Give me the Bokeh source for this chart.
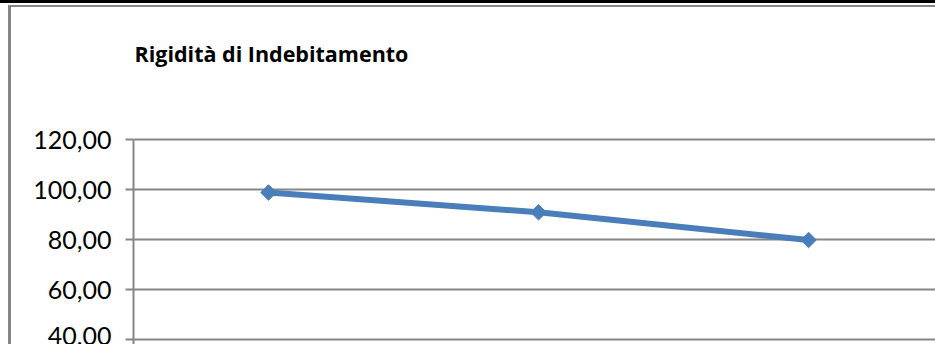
import math
from bokeh.plotting import figure
from bokeh.models import Range1d, FixedTicker, Label, CustomJSTickFormatter
from bokeh.embed import file_html
from bokeh.resources import INLINE

title_text = "Rigidità di Indebitamento"
periods = ["1", "2", "3"]
values = [98.8, 90.9, 79.8]
y_ticks = [40, 60, 80, 100, 120]

xs = list(range(1, len(periods) + 1))

W, H = 935, 344
p = figure(width=W, height=H, output_backend="svg", toolbar_location=None,
           x_range=Range1d(0.5, 3.47), y_range=Range1d(38, 172.8),
           min_border_left=133, min_border_right=0, min_border_top=7, min_border_bottom=0)
p.xaxis.visible = False
p.xgrid.visible = False
p.outline_line_color = None
p.background_fill_color = "white"
p.border_fill_color = None

# chart-area frame (double top rule + grey border) drawn as the page element's background
p.styles = {
    "background": (
        "linear-gradient(#000,#000) 0px 0px / 100% 3px no-repeat, "
        "linear-gradient(#868686,#868686) 8px 5px / 100% 2px no-repeat, "
        "linear-gradient(#868686,#868686) 8px 5px / 3px 100% no-repeat, "
        "#ffffff"
    )
}

ya = p.yaxis[0]
ya.ticker = FixedTicker(ticks=y_ticks)
ya.bounds = (0, 120)
ya.formatter = CustomJSTickFormatter(code="return tick.toFixed(2).replace('.', ',');")
ya.axis_line_color = "#868686"
ya.axis_line_width = 2
ya.major_tick_line_color = "#868686"
ya.major_tick_line_width = 2
ya.major_tick_out = 8
ya.major_tick_in = 0
ya.minor_tick_line_color = None
ya.major_label_text_font = "Lato"
ya.major_label_text_font_size = "25px"
ya.major_label_text_color = "black"
ya.major_label_standoff = 14

p.ygrid.ticker = FixedTicker(ticks=y_ticks)
p.ygrid.grid_line_color = "#868686"
p.ygrid.grid_line_width = 2

p.line(xs, values, line_color="#4A7EBB", line_width=6)
p.scatter(xs, values, marker="square", size=11, angle=math.pi / 4,
          fill_color="#4A7EBB", line_color="#4A7EBB", line_width=1)

p.add_layout(Label(x=134, y=53, x_units="canvas", y_units="canvas", text=title_text,
                   text_font="Open Sans", text_font_style="bold", text_font_size="21.5px",
                   text_color="black", text_baseline="alphabetic"))

open("out.html", "w").write(file_html(p, INLINE))
